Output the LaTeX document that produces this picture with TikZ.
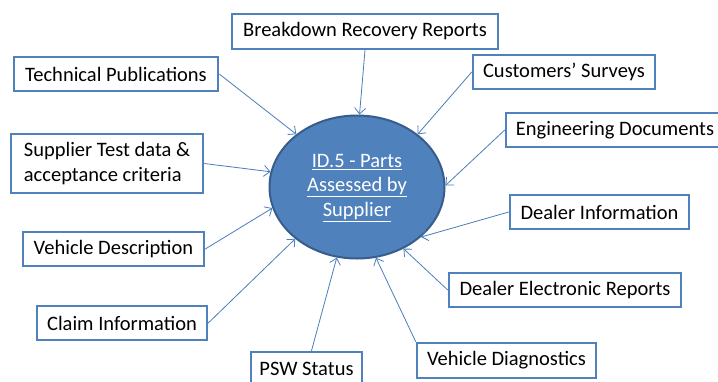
\documentclass[tikz,border=0pt]{standalone}
\usepackage{fontspec}
\setmainfont{Carlito}
\usetikzlibrary{shapes.geometric,arrows.meta}
\definecolor{boxblue}{RGB}{79,129,189}
\definecolor{ellfill}{RGB}{79,129,189}
\definecolor{elldraw}{RGB}{56,93,138}
\definecolor{arrblue}{RGB}{74,126,187}
\tikzset{
  srcbox/.style={draw=boxblue, line width=2.5pt, fill=white, inner sep=0pt,
    font=\fontsize{20.5}{25}\selectfont, text=black},
  feed/.style={draw=arrblue, line width=0.8pt, -{Straight Barb[length=6pt,width=11pt]}},
}
\begin{document}
\begin{tikzpicture}[x=1pt,y=-1pt]
\useasboundingbox (0,0) rectangle (718,381);
\fill[white] (0,0) rectangle (718,381);
\node[ellipse, draw=elldraw, line width=2pt, fill=ellfill, minimum width=175pt, minimum height=143pt, inner sep=0pt] (ell) at (357,187) {};
\node[text=white, align=center, font=\fontsize{20.5}{24.5}\selectfont] (lbl) at (357,188) {\underline{ID.5 - Parts}\\\underline{Assessed by}\\\underline{Supplier}};

\node[srcbox, minimum width=266pt, minimum height=35pt] (brk) at (365,31.5) {Breakdown Recovery Reports};
\node[srcbox, minimum width=204pt, minimum height=34pt] (tech) at (116,74) {Technical Publications};
\node[srcbox, minimum width=192pt, minimum height=59pt, align=left] (sup) at (107,163.5) {Supplier Test data \&\\acceptance criteria};
\node[srcbox, minimum width=182pt, minimum height=34pt] (cust) at (564,72) {Customers’ Surveys};
\node[srcbox, minimum width=218pt, minimum height=34pt] (eng) at (615,130) {Engineering Documents};
\node[srcbox, minimum width=179pt, minimum height=34pt] (dinfo) at (599.5,212) {Dealer Information};
\node[srcbox, minimum width=232pt, minimum height=34pt] (delec) at (565,290) {Dealer Electronic Reports};
\node[srcbox, minimum width=179pt, minimum height=35pt] (vdiag) at (506.5,360.5) {Vehicle Diagnostics};
\node[srcbox, minimum width=111pt, minimum height=34pt] (psw) at (306.5,369) {PSW Status};
\node[srcbox, minimum width=181pt, minimum height=34pt] (vdesc) at (113.5,249) {Vehicle Description};
\node[srcbox, minimum width=170pt, minimum height=34pt] (claim) at (122,323) {Claim Information};

\draw[feed] (tech.east) -- (ell.139);
\draw[feed] (sup.east) -- (ell.170);
\draw[feed] (vdesc.east) -- (ell.194);
\draw[feed] (claim.east) -- (ell.220);
\draw[feed] ([xshift=5pt]psw.north) -- (ell.254);
\draw[feed] (vdiag.north west) -- (ell.285);
\draw[feed] (delec.west) -- (ell.307);
\draw[feed] (dinfo.west) -- (ell.322);
\draw[feed] (eng.west) -- (ell.1);
\draw[feed] (cust.west) -- (ell.41.5);
\draw[feed] (brk.south) -- (ell.88);
\end{tikzpicture}
\end{document}
